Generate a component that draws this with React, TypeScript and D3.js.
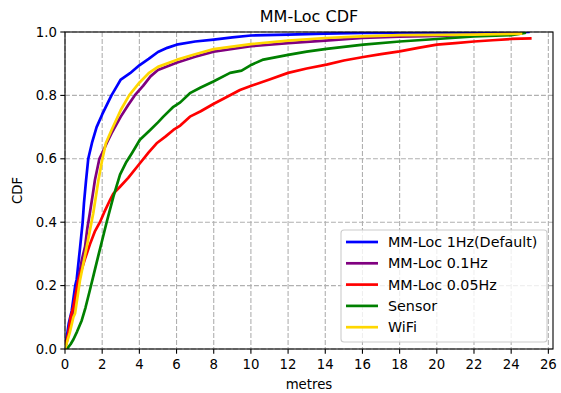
import React from 'react';
import * as d3 from 'd3';

// CDF samples: [metres, cdf]
const mmLoc1Hz: [number, number][] = [
  [0, 0], [0.2, 0.08], [0.36, 0.12], [0.55, 0.2], [0.63, 0.22], [0.81, 0.32], [0.95, 0.4],
  [1.02, 0.46], [1.13, 0.53], [1.25, 0.6], [1.45, 0.65], [1.7, 0.7], [2.0, 0.74], [2.25, 0.77],
  [2.5, 0.8], [2.8, 0.83], [3.0, 0.85], [3.5, 0.87], [4.0, 0.895], [4.5, 0.915], [5.0, 0.937],
  [5.5, 0.95], [6.0, 0.96], [7.0, 0.97], [8.0, 0.976], [9, 0.983], [10, 0.989], [12, 0.992],
  [14, 0.995], [16, 0.997], [20, 0.998], [24, 0.999], [25, 1.0],
];
const mmLoc01Hz: [number, number][] = [
  [0, 0], [0.2, 0.05], [0.36, 0.1], [0.45, 0.112], [0.66, 0.2], [0.72, 0.218], [0.9, 0.28],
  [1.08, 0.323], [1.2, 0.38], [1.34, 0.43], [1.5, 0.49], [1.61, 0.533], [1.85, 0.6], [2.0, 0.618],
  [2.25, 0.65], [2.5, 0.68], [3.0, 0.733], [3.4, 0.77], [3.75, 0.8], [4.2, 0.83], [4.6, 0.86],
  [5.0, 0.88], [6.0, 0.903], [7.0, 0.922], [8.0, 0.938], [10, 0.955], [12, 0.965], [14, 0.973],
  [16, 0.981], [18, 0.985], [20, 0.988], [22, 0.991], [24.6, 0.995],
];
const mmLoc005Hz: [number, number][] = [
  [0, 0], [0.18, 0.05], [0.3, 0.1], [0.45, 0.133], [0.72, 0.218], [1.0, 0.27], [1.08, 0.285],
  [1.34, 0.33], [1.6, 0.37], [1.88, 0.4], [2.1, 0.43], [2.42, 0.47], [2.6, 0.49], [2.96, 0.512],
  [3.4, 0.54], [4.03, 0.586], [4.5, 0.62], [4.93, 0.649], [5.4, 0.67], [5.83, 0.691], [6.2, 0.705],
  [6.72, 0.733], [7.3, 0.75], [7.98, 0.773], [8.7, 0.795], [9.41, 0.817], [9.95, 0.829], [11, 0.85],
  [12, 0.871], [13, 0.885], [14.07, 0.897], [15, 0.91], [16.05, 0.921], [17, 0.93], [18, 0.939],
  [19, 0.95], [20, 0.96], [21, 0.965], [22, 0.97], [23, 0.974], [24, 0.978], [25.1, 0.98],
];
const sensor: [number, number][] = [
  [0, 0], [0.1, 0], [0.3, 0.015], [0.45, 0.03], [0.65, 0.055], [0.9, 0.09], [1.1, 0.13],
  [1.34, 0.186], [1.55, 0.236], [1.8, 0.296], [1.97, 0.336], [2.24, 0.4], [2.6, 0.48], [2.96, 0.55],
  [3.3, 0.59], [3.59, 0.617], [4.03, 0.66], [4.57, 0.69], [5.0, 0.715], [5.29, 0.733], [5.83, 0.764],
  [6.2, 0.778], [6.72, 0.807], [7.3, 0.825], [7.98, 0.844], [8.88, 0.871], [9.5, 0.878],
  [10.04, 0.897], [10.67, 0.913], [12, 0.928], [13, 0.938], [14.07, 0.947], [15, 0.953],
  [16.05, 0.96], [18, 0.97], [20, 0.978], [22, 0.986], [24, 0.99], [24.74, 0.997], [24.74, 1.0],
];
const wifi: [number, number][] = [
  [0, 0], [0.25, 0.05], [0.45, 0.1], [0.54, 0.112], [0.81, 0.218], [1.17, 0.323], [1.52, 0.428],
  [1.8, 0.533], [2.0, 0.596], [2.2, 0.65], [2.5, 0.69], [3.0, 0.754], [3.45, 0.8], [4.0, 0.84],
  [4.5, 0.87], [5.0, 0.89], [6.0, 0.912], [7.0, 0.93], [8.0, 0.946], [10, 0.962], [12, 0.973],
  [14, 0.981], [16, 0.986], [18, 0.99], [20, 0.991], [22, 0.992], [24.6, 0.995],
];

const seriesNames = ['MM-Loc 1Hz(Default)', 'MM-Loc 0.1Hz', 'MM-Loc 0.05Hz', 'Sensor', 'WiFi'];
const seriesColors = ['#0000ff', '#800080', '#ff0000', '#008000', '#ffd700'];
const seriesData = [mmLoc1Hz, mmLoc01Hz, mmLoc005Hz, sensor, wifi];

const xTicks = d3.range(0, 27, 2);
const yTicks = [0, 0.2, 0.4, 0.6, 0.8, 1.0];

const width = 561;
const height = 393;
const margin = { top: 32, right: 8, bottom: 44, left: 65 };
const font = 'DejaVu Sans, sans-serif';

const App = () => {
  const x = d3.scaleLinear().domain([0, 26.25]).range([margin.left, width - margin.right]);
  const y = d3.scaleLinear().domain([0, 1]).range([height - margin.bottom, margin.top]);
  const line = d3.line<[number, number]>().x((d) => x(d[0])).y((d) => y(d[1]));

  const [x0, x1] = x.range();
  const [y0, y1] = y.range();

  // legend layout
  const lg = { x: 341, y: 230, w: 206, h: 112, row: 21.3 };

  return (
    <svg width={width} height={height} style={{ position: 'absolute', left: 0, top: 0, background: '#fff' }} fontFamily={font}>
      <defs>
        <clipPath id="plot">
          <rect x={x0} y={y1} width={x1 - x0} height={y0 - y1} />
        </clipPath>
      </defs>

      {/* grid */}
      <g stroke="#b0b0b0" strokeWidth={1.1} strokeDasharray="4.9,2.1">
        {xTicks.map((t) => (
          <line key={'gx' + t} x1={x(t)} x2={x(t)} y1={y1} y2={y0} />
        ))}
        {yTicks.map((t) => (
          <line key={'gy' + t} x1={x0} x2={x1} y1={y(t)} y2={y(t)} />
        ))}
      </g>

      {/* series */}
      <g clipPath="url(#plot)" fill="none" strokeWidth={2.7} strokeLinejoin="round">
        {seriesData.map((d, i) => (
          <path key={seriesNames[i]} d={line(d) ?? ''} stroke={seriesColors[i]} />
        ))}
      </g>

      {/* spines */}
      <rect x={x0} y={y1} width={x1 - x0} height={y0 - y1} fill="none" stroke="#000" strokeWidth={1.1} />

      {/* ticks */}
      <g fontSize={13.3} fill="#000">
        {xTicks.map((t) => (
          <g key={'tx' + t}>
            <line x1={x(t)} x2={x(t)} y1={y0} y2={y0 + 4.7} stroke="#000" strokeWidth={1.1} />
            <text x={x(t)} y={y0 + 19.5} textAnchor="middle">{t}</text>
          </g>
        ))}
        {yTicks.map((t) => (
          <g key={'ty' + t}>
            <line x1={x0 - 4.7} x2={x0} y1={y(t)} y2={y(t)} stroke="#000" strokeWidth={1.1} />
            <text x={x0 - 8} y={y(t)} dy="0.35em" textAnchor="end">{t.toFixed(1)}</text>
          </g>
        ))}
      </g>

      <text x={(x0 + x1) / 2} y={389} textAnchor="middle" fontSize={13.3}>metres</text>
      <text transform={`translate(22,${(y0 + y1) / 2}) rotate(-90)`} textAnchor="middle" fontSize={13.3}>CDF</text>
      <text x={(x0 + x1) / 2} y={22} textAnchor="middle" fontSize={16}>MM-Loc CDF</text>

      {/* legend */}
      <g>
        <rect x={lg.x} y={lg.y} width={lg.w} height={lg.h} rx={3} fill="#fff" fillOpacity={0.8} stroke="#cccccc" strokeWidth={1.1} />
        {seriesNames.map((name, i) => {
          const cy = lg.y + 12 + i * lg.row;
          return (
            <g key={'lg' + name}>
              <line x1={lg.x + 5} x2={lg.x + 37} y1={cy} y2={cy} stroke={seriesColors[i]} strokeWidth={2.7} />
              <text x={lg.x + 47} y={cy} dy="0.36em" fontSize={14.3}>{name}</text>
            </g>
          );
        })}
      </g>
    </svg>
  );
};

export default App;
